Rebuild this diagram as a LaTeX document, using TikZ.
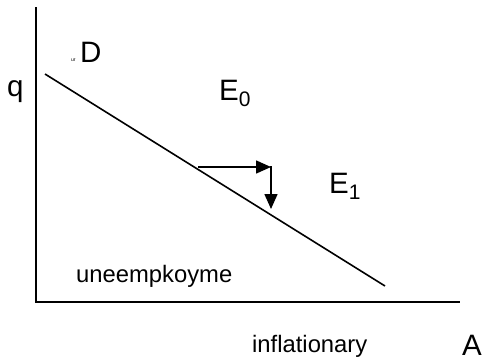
\documentclass[tikz,border=0pt]{standalone}
\usepackage{fontspec}
\setmainfont{Liberation Sans}
\usetikzlibrary{arrows.meta}
\newcommand\mysub[1]{\raisebox{-6pt}{\fontsize{21}{21}\selectfont #1}}
\begin{document}
\begin{tikzpicture}[x=1pt,y=-1pt,
  axis/.style={line width=2pt},
  curve/.style={line width=1.6pt},
  move/.style={line width=1.6pt,-{Triangle[length=15pt,width=13pt]}},
  big/.style={font=\fontsize{29.5}{31}\selectfont,inner sep=0pt},
  small/.style={font=\fontsize{23.8}{25}\selectfont,inner sep=0pt}]
\useasboundingbox (0,0) rectangle (485,362);
% axes
\coordinate (top) at (36,7);
\coordinate (origin) at (36,302);
\coordinate (right) at (460,302);
\draw[axis] (top) -- (origin) -- (right);
% curve
\coordinate (c1) at (45,74);
\coordinate (c2) at (385,286);
\draw[curve] (c1) -- (c2);
% arrows
\coordinate (h0) at (198,167);
\coordinate (h1) at (271,167);
\coordinate (v0) at (271,166);
\coordinate (v1) at (271,209);
\draw[move] (h0) -- (h1);
\draw[move] (v0) -- (v1);
% labels
\node[big,anchor=base west] (q) at (7,96) {q};
\node[big,anchor=base west] (D) at (80,62) {D};
\node[inner sep=0pt,anchor=base west,font=\fontsize{5}{5}\selectfont] (mark) at (71,61) {ur};
\node[big,anchor=base west] (E0) at (219,100) {E\mysub{0}};
\node[big,anchor=base west] (E1) at (329,193) {E\mysub{1}};
\node[small,anchor=base west] (u) at (76,282) {uneempkoyme};
\node[small,anchor=base west] (inf) at (252,352) {inflationary};
\node[big,anchor=base west] (A) at (462,355) {A};
\end{tikzpicture}
\end{document}
